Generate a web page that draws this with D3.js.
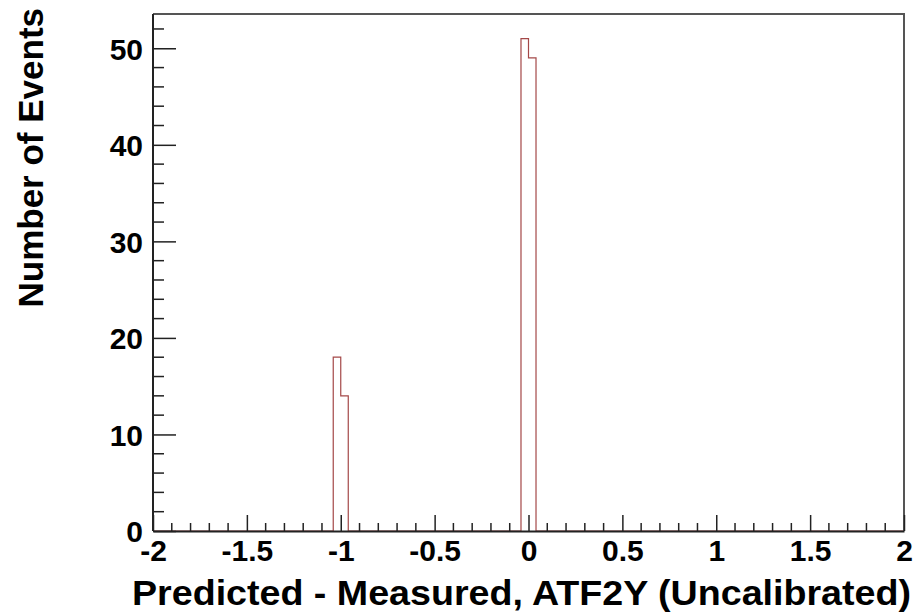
<!DOCTYPE html>
<html>
<head>
<meta charset="utf-8">
<script src="https://cdn.jsdelivr.net/npm/d3@7"></script>
<style>
  html, body { margin: 0; padding: 0; background: #fff; }
  svg { display: block; }
  text { font-family: "Liberation Sans", Arial, Helvetica, sans-serif; font-weight: bold; fill: #000; }
</style>
</head>
<body>
<svg id="chart" width="914" height="612"></svg>
<script>
// Histogram: 100 bins over [-2, 2]; only the filled bins are listed
const xRange = [-2, 2];
const nBins = 100;
const filledBinLowEdges = [-1.04, -1.00, -0.04, 0.00];
const filledBinCounts = [18, 14, 51, 49];

const xTickValues = [-2, -1.5, -1, -0.5, 0, 0.5, 1, 1.5, 2];
const xTickLabels = ["-2", "-1.5", "-1", "-0.5", "0", "0.5", "1", "1.5", "2"];
const yTickValues = [0, 10, 20, 30, 40, 50];
const yTickLabels = ["0", "10", "20", "30", "40", "50"];

const xTitle = "Predicted - Measured, ATF2Y (Uncalibrated)";
const yTitle = "Number of Events";

const svg = d3.select("#chart");
const frame = { left: 153, right: 904, top: 14, bottom: 531 };

const binWidth = (xRange[1] - xRange[0]) / nBins;
const counts = new Array(nBins).fill(0);
filledBinLowEdges.forEach((lo, i) => {
  const idx = Math.round((lo - xRange[0]) / binWidth);
  counts[idx] = filledBinCounts[i];
});
const yMax = d3.max(counts) * 1.05;

const x = d3.scaleLinear().domain(xRange).range([frame.left, frame.right]);
const y = d3.scaleLinear().domain([0, yMax]).range([frame.bottom, frame.top]);

// step outline of the histogram
const stepPoints = counts.map((c, i) => [xRange[0] + i * binWidth, c]);
stepPoints.push([xRange[1], counts[nBins - 1]]);
const line = d3.line()
  .x(d => x(d[0]))
  .y(d => y(d[1]))
  .curve(d3.curveStepAfter);

svg.append("path")
  .datum(stepPoints)
  .attr("d", line)
  .attr("fill", "none")
  .attr("stroke", "#a44848")
  .attr("stroke-width", 1.2);

// frame (top and right)
svg.append("path")
  .attr("d", `M${frame.left},${frame.top}H${frame.right}V${frame.bottom}`)
  .attr("fill", "none")
  .attr("stroke", "#555")
  .attr("stroke-width", 2);

// X axis: major every 0.5, minor every 0.1, ticks pointing up
const xAxisG = svg.append("g").attr("transform", `translate(0,${frame.bottom})`);
const xMinor = d3.range(-20, 21).map(v => v / 10).filter(v => !xTickValues.some(t => Math.abs(t - v) < 1e-9));
xAxisG.selectAll("line.minor").data(xMinor).join("line")
  .attr("x1", d => x(d)).attr("x2", d => x(d))
  .attr("y1", 0).attr("y2", -8)
  .attr("stroke", "#222").attr("stroke-width", 1.5);
xAxisG.call(d3.axisBottom(x)
  .tickValues(xTickValues)
  .tickFormat((d, i) => xTickLabels[i])
  .tickSizeInner(-16)
  .tickSizeOuter(0)
  .tickPadding(0));
xAxisG.select(".domain").attr("stroke", "#222").attr("stroke-width", 2);
xAxisG.selectAll(".tick line").attr("stroke", "#222").attr("stroke-width", 1.5);
xAxisG.selectAll(".tick text")
  .attr("font-size", 30).attr("font-family", null)
  .attr("y", 30).attr("dy", 0);

// Y axis: major every 10, minor every 2, ticks pointing right
const yAxisG = svg.append("g").attr("transform", `translate(${frame.left},0)`);
const yMinor = d3.range(0, 54, 2).filter(v => v % 10 !== 0);
yAxisG.selectAll("line.minor").data(yMinor).join("line")
  .attr("x1", 0).attr("x2", 11)
  .attr("y1", d => y(d)).attr("y2", d => y(d))
  .attr("stroke", "#222").attr("stroke-width", 1.5);
yAxisG.call(d3.axisLeft(y)
  .tickValues(yTickValues)
  .tickFormat((d, i) => yTickLabels[i])
  .tickSizeInner(-23)
  .tickSizeOuter(0)
  .tickPadding(0));
yAxisG.select(".domain").attr("stroke", "#222").attr("stroke-width", 2)
  .attr("d", `M0,${frame.top}V${frame.bottom}`);
yAxisG.selectAll(".tick line").attr("stroke", "#222").attr("stroke-width", 1.5);
yAxisG.selectAll(".tick text")
  .attr("font-size", 30).attr("font-family", null)
  .attr("x", -10).attr("dy", "0.36em");

// axis titles, right-aligned to the axis ends
svg.append("text")
  .attr("x", 911).attr("y", 605)
  .attr("text-anchor", "end")
  .attr("font-size", 35)
  .attr("textLength", 779)
  .attr("lengthAdjust", "spacingAndGlyphs")
  .text(xTitle);

svg.append("text")
  .attr("transform", "translate(43,8) rotate(-90)")
  .attr("text-anchor", "end")
  .attr("font-size", 35)
  .text(yTitle);
</script>
</body>
</html>
